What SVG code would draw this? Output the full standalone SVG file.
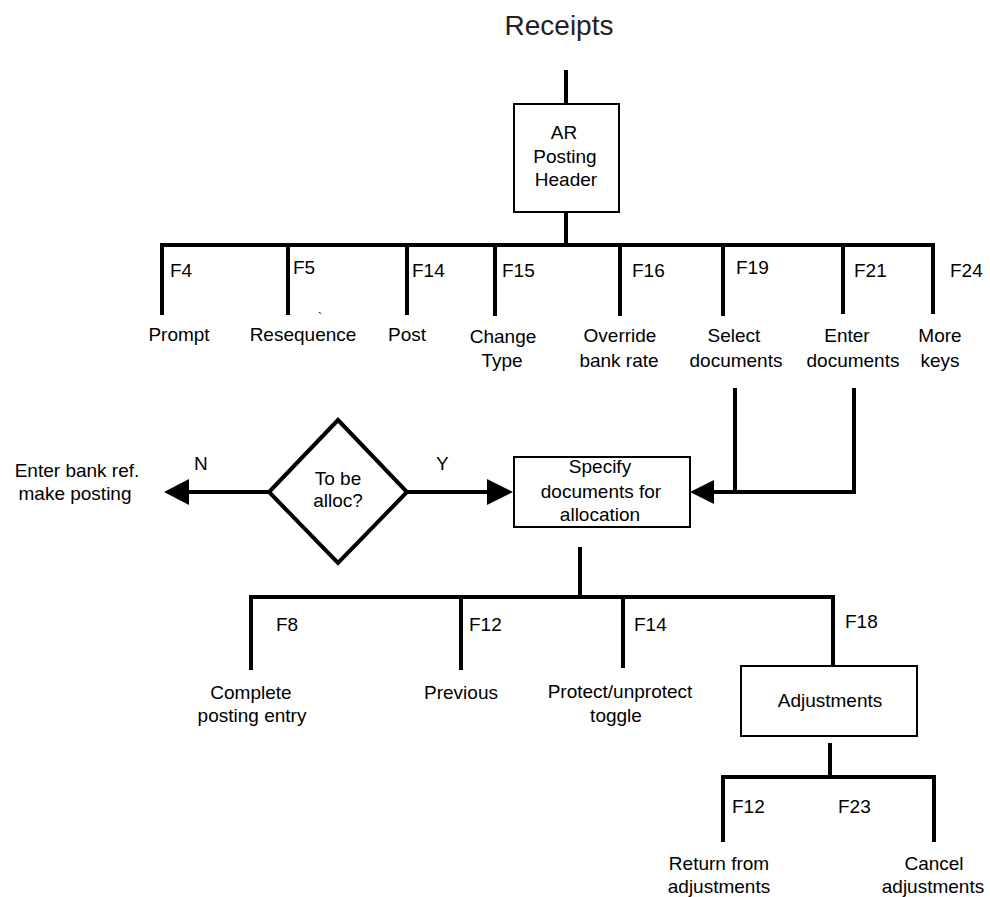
<svg xmlns="http://www.w3.org/2000/svg" width="990" height="897" viewBox="0 0 990 897">
  <style>
    text { font-family: "Liberation Sans", Arial, sans-serif; font-size: 19px; fill: #000; }
    .c { text-anchor: middle; }
    .title { font-size: 28px; fill: #222; }
    .box { fill: #fff; stroke: #000; stroke-width: 2; }
    .dia { fill: #fff; stroke: #000; stroke-width: 4; }
    .ln { fill: none; stroke: #000; stroke-width: 4; }
    .ah { fill: #000; stroke: none; }
  </style>
  <rect width="990" height="897" fill="#fff"/>

  <text class="title c" x="559" y="35">Receipts</text>

  <!-- connectors -->
  <g id="connectors">
    <path class="ln" d="M566 70 V104"/>
    <path class="ln" d="M566 212 V245"/>
    <path class="ln" d="M160 245 H935"/>
    <path class="ln" d="M162 243 V315 M288 243 V315 M407 243 V315 M495 243 V316 M620 243 V316 M723 243 V316 M843 243 V314 M933 243 V314"/>
    <!-- F19 / F21 feed into allocation box -->
    <path class="ln" d="M735 388 V492 M854 388 V494 M706 492 H856"/>
    <polygon class="ah" points="690,492 714,480 714,504"/>
    <!-- decision arrows -->
    <path class="ln" d="M186 492 H269"/>
    <polygon class="ah" points="164,492 189,479 189,505"/>
    <path class="ln" d="M407 492 H490"/>
    <polygon class="ah" points="513,492 487,479 487,505"/>
    <!-- allocation options -->
    <path class="ln" d="M580 547 V597"/>
    <path class="ln" d="M249 597 H835"/>
    <path class="ln" d="M251 595 V670 M461 595 V670 M623 595 V668 M833 595 V666"/>
    <!-- adjustment options -->
    <path class="ln" d="M830 743 V779"/>
    <path class="ln" d="M721 777 H936"/>
    <path class="ln" d="M723 775 V842 M934 775 V842"/>
  </g>

  <!-- key labels -->
  <g id="keys">
    <text x="170" y="277">F4</text>
    <text x="293" y="274">F5</text>
    <text x="412" y="277">F14</text>
    <text x="502" y="277">F15</text>
    <text x="632" y="277">F16</text>
    <text x="736" y="274">F19</text>
    <text x="854" y="277">F21</text>
    <text x="950" y="277">F24</text>
    <text x="276" y="631">F8</text>
    <text x="469" y="631">F12</text>
    <text x="634" y="631">F14</text>
    <text x="845" y="628">F18</text>
    <text x="732" y="813">F12</text>
    <text x="838" y="813">F23</text>
    <text x="194" y="470">N</text>
    <text x="436" y="470">Y</text>
  </g>

  <g id="header">
    <rect class="box" x="514" y="104" width="105" height="108"/>
    <text class="c" x="564" y="139">AR</text>
    <text class="c" x="565" y="163">Posting</text>
    <text class="c" x="566" y="186">Header</text>
  </g>

  <g id="prompt"><text class="c" x="179" y="341">Prompt</text></g>
  <g id="resequence">
    <text class="c" x="303" y="341">Resequence</text>
    <text x="318" y="322" style="font-size:12px">`</text>
  </g>
  <g id="post"><text class="c" x="407" y="341">Post</text></g>
  <g id="change-type">
    <text class="c" x="503" y="343">Change</text>
    <text class="c" x="502" y="367">Type</text>
  </g>
  <g id="override-rate">
    <text class="c" x="620" y="342">Override</text>
    <text class="c" x="619" y="367">bank rate</text>
  </g>
  <g id="select-docs">
    <text class="c" x="734" y="342">Select</text>
    <text class="c" x="736" y="367">documents</text>
  </g>
  <g id="enter-docs">
    <text class="c" x="847" y="342">Enter</text>
    <text class="c" x="853" y="367">documents</text>
  </g>
  <g id="more-keys">
    <text class="c" x="940" y="342">More</text>
    <text class="c" x="940" y="367">keys</text>
  </g>

  <g id="decision">
    <polygon class="dia" points="338,420 407,492 338,563 269,492"/>
    <text class="c" x="338" y="485">To be</text>
    <text class="c" x="338" y="507">alloc?</text>
  </g>

  <g id="bank-ref">
    <text class="c" x="77" y="477">Enter bank ref.</text>
    <text class="c" x="75" y="500">make posting</text>
  </g>

  <g id="specify-docs">
    <rect class="box" x="514" y="457" width="176" height="70"/>
    <text class="c" x="600" y="473">Specify</text>
    <text class="c" x="601" y="498">documents for</text>
    <text class="c" x="600" y="521">allocation</text>
  </g>

  <g id="complete-entry">
    <text class="c" x="251" y="699">Complete</text>
    <text class="c" x="252" y="722">posting entry</text>
  </g>
  <g id="previous"><text class="c" x="461" y="699">Previous</text></g>
  <g id="protect-toggle">
    <text class="c" x="620" y="698">Protect/unprotect</text>
    <text class="c" x="616" y="722">toggle</text>
  </g>

  <g id="adjustments">
    <rect class="box" x="741" y="666" width="176" height="70"/>
    <text class="c" x="830" y="707">Adjustments</text>
  </g>

  <g id="return-adj">
    <text class="c" x="719" y="870">Return from</text>
    <text class="c" x="719" y="893">adjustments</text>
  </g>
  <g id="cancel-adj">
    <text class="c" x="934" y="870">Cancel</text>
    <text class="c" x="933" y="893">adjustments</text>
  </g>
</svg>
